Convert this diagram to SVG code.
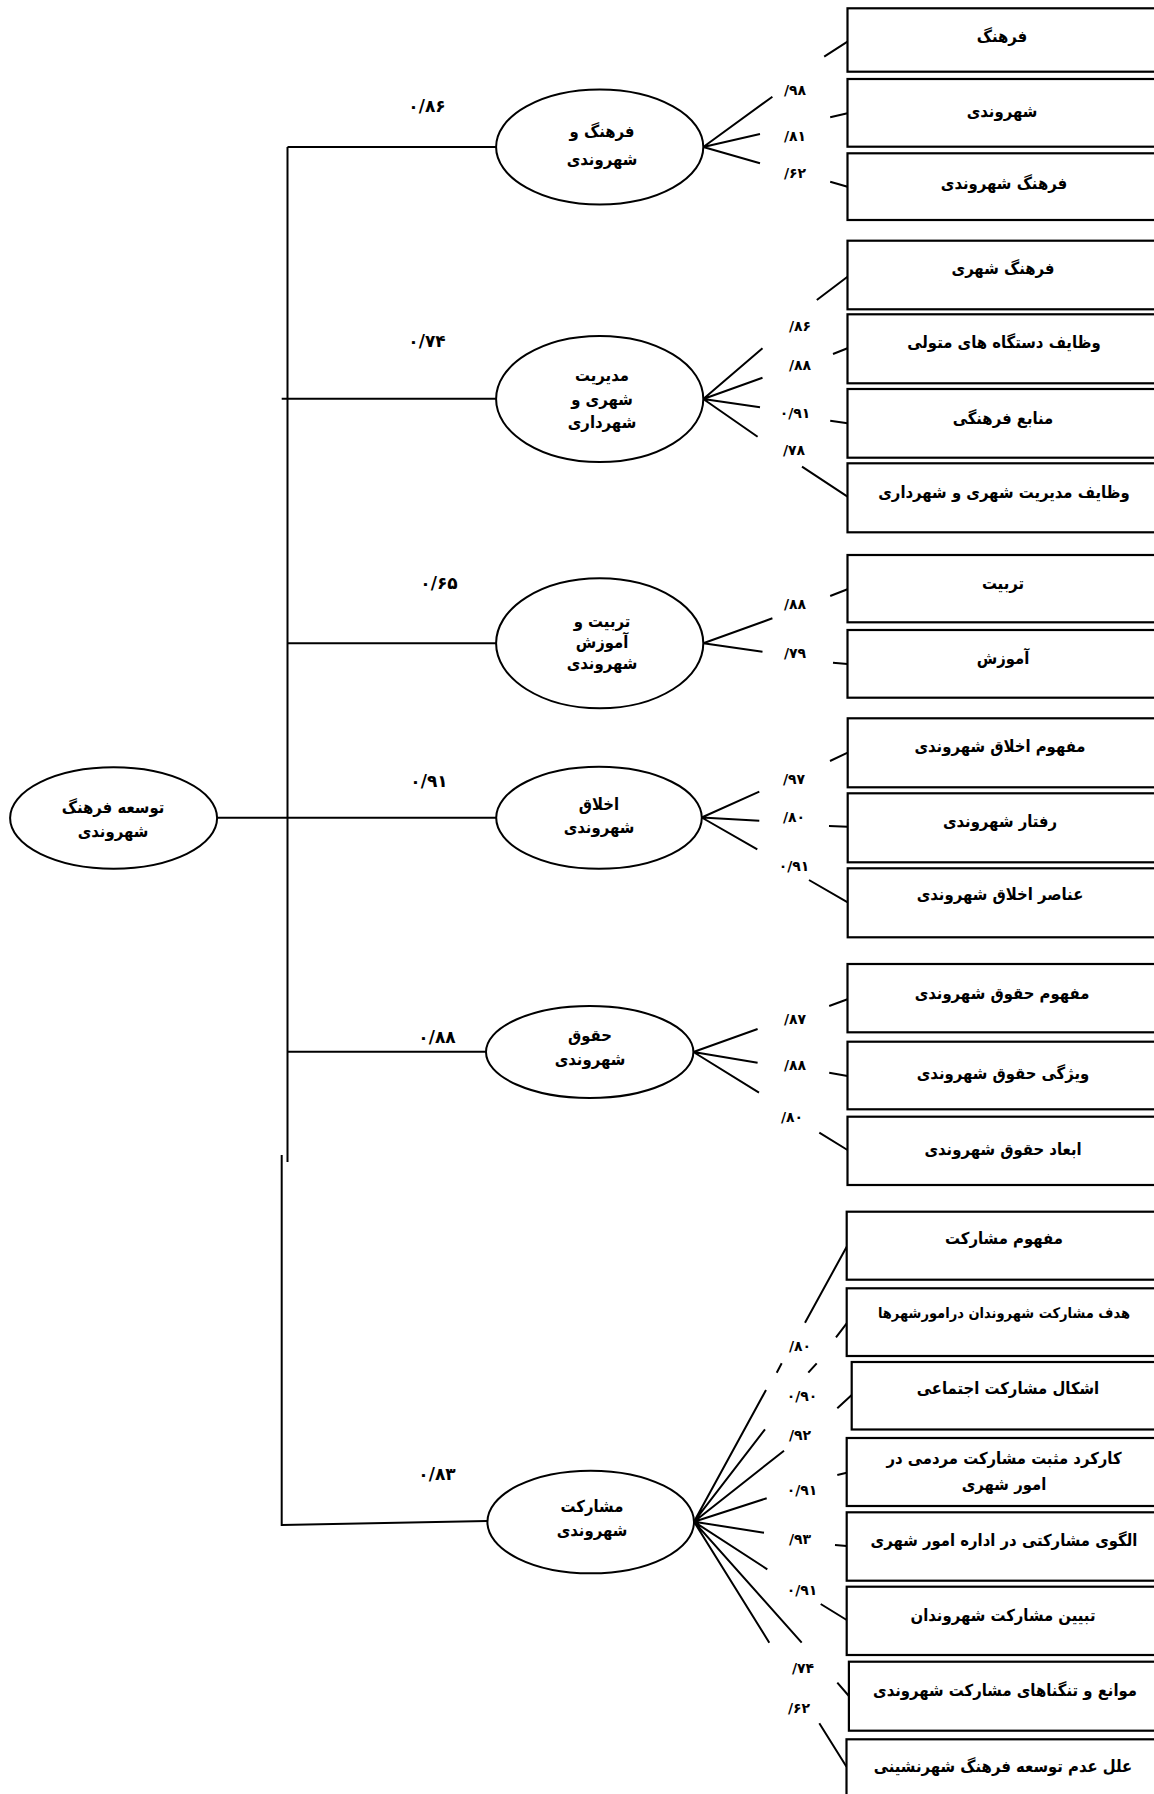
<svg xmlns="http://www.w3.org/2000/svg" width="1154" height="1794" viewBox="0 0 1154 1794">
<style>
.bg{fill:#fff}
.ell{fill:#fff;stroke:#000;stroke-width:2}
.box{fill:#fff;stroke:#000;stroke-width:2.2}
.ln{stroke:#000;stroke-width:2;fill:none}
.t{font-family:"DejaVu Sans Condensed","DejaVu Sans",sans-serif;font-weight:bold;font-size:16.5px;text-anchor:middle;direction:rtl;fill:#000}
.ts{font-family:"DejaVu Sans Condensed","DejaVu Sans",sans-serif;font-weight:bold;font-size:14.5px;text-anchor:middle;direction:rtl;fill:#000}
.n{font-family:"DejaVu Sans",sans-serif;font-weight:bold;font-size:17px;text-anchor:middle;fill:#000}
.ns{font-family:"DejaVu Sans",sans-serif;font-weight:bold;font-size:14px;text-anchor:middle;fill:#000}
</style>
<rect class="bg" x="0" y="0" width="1154" height="1794"/>
<g id="connectors">
<line class="ln" x1="287.5" y1="147" x2="287.5" y2="1162"/>
<line class="ln" x1="281.7" y1="1155" x2="281.7" y2="1526"/>
<line class="ln" x1="287.5" y1="147" x2="496" y2="147"/>
<line class="ln" x1="281.7" y1="398.7" x2="496" y2="398.7"/>
<line class="ln" x1="287.5" y1="643.3" x2="496" y2="643.3"/>
<line class="ln" x1="217" y1="817.7" x2="496" y2="817.7"/>
<line class="ln" x1="287.5" y1="1051.7" x2="486" y2="1051.7"/>
<polyline class="ln" points="281.7,1525 487.3,1521"/>
<path class="ln" d="M703.3,147L772.4,96.7M703.3,147L760,134M703.3,147L760,163.3M824.2,56.7L847.5,41.7M830.2,117.3L847.5,113.3M830.2,181.7L847.5,186.7"/>
<path class="ln" d="M703.3,399L762.5,348.3M703.3,399L762.5,377.7M703.3,399L760,407.3M703.3,399L757.6,436.7M816.8,300L847.5,276.7M833,354L847.5,348.3M830.2,420.7L847.5,423.3M802,466.7L847.5,496.7"/>
<path class="ln" d="M703.3,643.3L772.4,618.3M703.3,643.3L762.5,651.7M830.2,596L847.5,589.3M833,662.7L847.5,664"/>
<path class="ln" d="M701.7,817.5L759.3,791.7M701.7,817.5L759.3,820.7M701.7,817.5L757.3,849.3M830,761L847.7,752.7M829,826L847.7,826.7M809,880L847.7,902.3"/>
<path class="ln" d="M693.4,1052L757.6,1029M693.4,1052L757.6,1062.7M693.4,1052L759,1092.7M829.2,1006L847.5,999.3M829.2,1072.7L847.5,1076M819.3,1132.7L847.5,1150"/>
<path class="ln" d="M694,1521.7L766,1390M694,1521.7L765,1429.3M694,1521.7L784,1450.7M694,1521.7L766.7,1498.3M694,1521.7L764,1532.7M694,1521.7L767.3,1569.3M694,1521.7L801.7,1642.7M694,1521.7L769.3,1642.7"/>
<path class="ln" d="M776.7,1372.7L781.7,1363.3M808.3,1372.7L816.7,1363.3M805,1322.7L846.7,1246.7M836,1337.3L846.7,1323.3M837.3,1408.3L851.7,1395M837.3,1475L846.7,1472.7M835,1545L846.7,1546M820.7,1604L846.7,1620M837.3,1682.7L848.9,1696M819.3,1723.3L846.5,1766.7"/>
</g>
<g id="weights">
<text class="n" x="427" y="112">۰/۸۶</text>
<text class="n" x="427" y="347">۰/۷۴</text>
<text class="n" x="439" y="589">۰/۶۵</text>
<text class="n" x="429" y="787">۰/۹۱</text>
<text class="n" x="437" y="1043">۰/۸۸</text>
<text class="n" x="437" y="1480">۰/۸۳</text>
<text class="ns" x="795" y="95">/۹۸</text>
<text class="ns" x="795" y="141">/۸۱</text>
<text class="ns" x="795" y="178">/۶۲</text>
<text class="ns" x="800" y="331">/۸۶</text>
<text class="ns" x="800" y="370">/۸۸</text>
<text class="ns" x="795" y="418">۰/۹۱</text>
<text class="ns" x="794" y="455">/۷۸</text>
<text class="ns" x="795" y="609">/۸۸</text>
<text class="ns" x="795" y="658">/۷۹</text>
<text class="ns" x="794" y="784">/۹۷</text>
<text class="ns" x="794" y="822">/۸۰</text>
<text class="ns" x="794" y="871">۰/۹۱</text>
<text class="ns" x="795" y="1024">/۸۷</text>
<text class="ns" x="795" y="1070">/۸۸</text>
<text class="ns" x="792" y="1122">/۸۰</text>
<text class="ns" x="800" y="1351">/۸۰</text>
<text class="ns" x="802" y="1401">۰/۹۰</text>
<text class="ns" x="800" y="1440">/۹۲</text>
<text class="ns" x="802" y="1495">۰/۹۱</text>
<text class="ns" x="800" y="1544">/۹۳</text>
<text class="ns" x="802" y="1595">۰/۹۱</text>
<text class="ns" x="803" y="1673">/۷۴</text>
<text class="ns" x="799" y="1713">/۶۲</text>
</g>
<g id="root">
<ellipse class="ell" cx="113.6" cy="818" rx="103.5" ry="50.7"/>
<text class="t" x="113" y="813">توسعه فرهنگ</text>
<text class="t" x="113" y="837">شهروندی</text>
</g>
<g id="f1">
<ellipse class="ell" cx="599.7" cy="147" rx="103.6" ry="57.5"/>
<text class="t" x="602" y="137">فرهنگ و</text>
<text class="t" x="602" y="165">شهروندی</text>
</g>
<g id="f2">
<ellipse class="ell" cx="599.7" cy="399" rx="103.6" ry="63"/>
<text class="t" x="602" y="381">مدیریت</text>
<text class="t" x="602" y="405">شهری و</text>
<text class="t" x="602" y="428">شهرداری</text>
</g>
<g id="f3">
<ellipse class="ell" cx="599.7" cy="643.3" rx="103.6" ry="65"/>
<text class="t" x="602" y="627">تربیت و</text>
<text class="t" x="602" y="648">آموزش</text>
<text class="t" x="602" y="669">شهروندی</text>
</g>
<g id="f4">
<ellipse class="ell" cx="599" cy="817.8" rx="102.8" ry="51"/>
<text class="t" x="599" y="810">اخلاق</text>
<text class="t" x="599" y="833">شهروندی</text>
</g>
<g id="f5">
<ellipse class="ell" cx="589.7" cy="1052" rx="103.7" ry="46"/>
<text class="t" x="590" y="1041">حقوق</text>
<text class="t" x="590" y="1065">شهروندی</text>
</g>
<g id="f6">
<ellipse class="ell" cx="590.7" cy="1522" rx="103.3" ry="51.3"/>
<text class="t" x="592" y="1512">مشارکت</text>
<text class="t" x="592" y="1536">شهروندی</text>
</g>
<g id="i1"><rect class="box" x="847.5" y="8.3" width="312" height="63.4"/><text class="t" x="1002" y="42">فرهنگ</text></g>
<g id="i2"><rect class="box" x="847.5" y="79" width="312" height="67.7"/><text class="t" x="1002" y="117">شهروندی</text></g>
<g id="i3"><rect class="box" x="847.5" y="153.3" width="312" height="66.7"/><text class="t" x="1004" y="189">فرهنگ شهروندی</text></g>
<g id="i4"><rect class="box" x="847.5" y="240.7" width="312" height="68.6"/><text class="t" x="1003" y="274">فرهنگ شهری</text></g>
<g id="i5"><rect class="box" x="847.5" y="314.3" width="312" height="69"/><text class="t" x="1004" y="348">وظایف دستگاه های متولی</text></g>
<g id="i6"><rect class="box" x="847.5" y="389" width="312" height="68.7"/><text class="t" x="1003" y="424">منابع فرهنگی</text></g>
<g id="i7"><rect class="box" x="847.5" y="463.3" width="312" height="69"/><text class="t" x="1004" y="498">وظایف مدیریت شهری و شهرداری</text></g>
<g id="i8"><rect class="box" x="847.5" y="555" width="312" height="67.3"/><text class="t" x="1003" y="589">تربیت</text></g>
<g id="i9"><rect class="box" x="847.5" y="630" width="312" height="67.7"/><text class="t" x="1003" y="664">آموزش</text></g>
<g id="i10"><rect class="box" x="847.7" y="718.3" width="312" height="69"/><text class="t" x="1000" y="752">مفهوم اخلاق شهروندی</text></g>
<g id="i11"><rect class="box" x="847.7" y="793.3" width="312" height="69"/><text class="t" x="1000" y="827">رفتار شهروندی</text></g>
<g id="i12"><rect class="box" x="847.7" y="868.3" width="312" height="69"/><text class="t" x="1000" y="900">عناصر اخلاق شهروندی</text></g>
<g id="i13"><rect class="box" x="847.5" y="964" width="312" height="68.3"/><text class="t" x="1002" y="999">مفهوم حقوق شهروندی</text></g>
<g id="i14"><rect class="box" x="847.5" y="1041.7" width="312" height="67.6"/><text class="t" x="1003" y="1079">ویژگی حقوق شهروندی</text></g>
<g id="i15"><rect class="box" x="847.5" y="1116.7" width="312" height="68.3"/><text class="t" x="1003" y="1155">ابعاد حقوق شهروندی</text></g>
<g id="i16"><rect class="box" x="846.7" y="1211.7" width="312" height="68"/><text class="t" x="1004" y="1244">مفهوم مشارکت</text></g>
<g id="i17"><rect class="box" x="846.7" y="1288.3" width="312" height="67.7"/><text class="ts" x="1004" y="1318">هدف مشارکت شهروندان درامورشهرها</text></g>
<g id="i18"><rect class="box" x="851.7" y="1362" width="312" height="67.5"/><text class="t" x="1008" y="1394">اشکال مشارکت اجتماعی</text></g>
<g id="i19"><rect class="box" x="846.7" y="1438" width="312" height="68"/><text class="t" x="1004" y="1464">کارکرد مثبت مشارکت مردمی در</text><text class="t" x="1004" y="1490">امور شهری</text></g>
<g id="i20"><rect class="box" x="846.7" y="1512.3" width="312" height="68.4"/><text class="t" x="1004" y="1546">الگوی مشارکتی در اداره امور شهری</text></g>
<g id="i21"><rect class="box" x="846.7" y="1586.7" width="312" height="68.3"/><text class="t" x="1003" y="1621">تبیین مشارکت شهروندان</text></g>
<g id="i22"><rect class="box" x="848.9" y="1661.7" width="312" height="69"/><text class="t" x="1005" y="1696">موانع و تنگناهای مشارکت شهروندی</text></g>
<g id="i23"><rect class="box" x="846.5" y="1739.3" width="312" height="62"/><text class="t" x="1003" y="1772">علل عدم توسعه فرهنگ شهرنشینی</text></g>
</svg>
